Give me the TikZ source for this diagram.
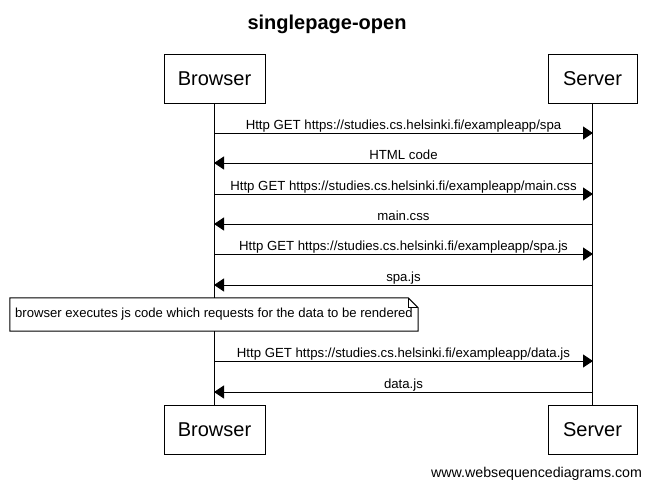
\documentclass[tikz,border=0pt]{standalone}
\usepackage{fontspec}
\setmainfont{Liberation Sans}
\usetikzlibrary{arrows.meta,calc}
\tikzset{
  actor/.style={draw, line width=1pt, minimum width=#1, minimum height=49pt, inner sep=0pt, font=\fontsize{20}{24}\selectfont},
  msg/.style={line width=1pt, -{Triangle[length=10pt,width=13pt]}},
  msglabel/.style={above, inner sep=1pt, text depth=2.5pt, font=\fontsize{13.2}{15}\selectfont},
  note/.style={fill=white, minimum width=408pt, minimum height=33pt, inner sep=0pt, font=\fontsize{13.1}{15}\selectfont}
}
\begin{document}
\begin{tikzpicture}[x=1pt,y=-1pt]
\useasboundingbox (0,0) rectangle (652,488);

\node[anchor=base, font=\bfseries\fontsize{20}{24}\selectfont] (title) at (327,29) {singlepage-open};

\node[actor=101pt] (browsertop) at (214.5,78.5) {Browser};
\node[actor=89pt] (servertop) at (592.5,78.5) {Server};
\node[actor=101pt] (browserbot) at (214.5,430) {Browser};
\node[actor=89pt] (serverbot) at (592.5,430) {Server};
\draw[line width=1pt] (browsertop) -- (browserbot);
\draw[line width=1pt] (servertop) -- (serverbot);

\coordinate (b1) at (214,133); \coordinate (s1) at (593,133);
\coordinate (b2) at (214,163); \coordinate (s2) at (593,163);
\coordinate (b3) at (214,194); \coordinate (s3) at (593,194);
\coordinate (b4) at (214,224); \coordinate (s4) at (593,224);
\coordinate (b5) at (214,254); \coordinate (s5) at (593,254);
\coordinate (b6) at (214,285); \coordinate (s6) at (593,285);
\coordinate (b7) at (214,361); \coordinate (s7) at (593,361);
\coordinate (b8) at (214,392); \coordinate (s8) at (593,392);

\draw[msg] (b1) -- node[msglabel] {Http GET https://studies.cs.helsinki.fi/exampleapp/spa} (s1);
\draw[msg] (s2) -- node[msglabel] {HTML code} (b2);
\draw[msg] (b3) -- node[msglabel] {Http GET https://studies.cs.helsinki.fi/exampleapp/main.css} (s3);
\draw[msg] (s4) -- node[msglabel] {main.css} (b4);
\draw[msg] (b5) -- node[msglabel] {Http GET https://studies.cs.helsinki.fi/exampleapp/spa.js} (s5);
\draw[msg] (s6) -- node[msglabel] {spa.js} (b6);
\draw[msg] (b7) -- node[msglabel] {Http GET https://studies.cs.helsinki.fi/exampleapp/data.js} (s7);
\draw[msg] (s8) -- node[msglabel] {data.js} (b8);

\node[note] (execnote) at (214,314.5) {browser executes js code which requests for the data to be rendered};
\draw[line width=1pt] (execnote.south west) -- (execnote.north west) -- ($(execnote.north east)+(-10,0)$)
  -- ($(execnote.north east)+(0,10)$) -- (execnote.south east) -- cycle;
\draw[line width=1pt] ($(execnote.north east)+(-10,0)$) |- ($(execnote.north east)+(0,10)$);

\node[anchor=base east, font=\fontsize{14.2}{17}\selectfont] (footer) at (645.5,477) {www.websequencediagrams.com};
\end{tikzpicture}
\end{document}
